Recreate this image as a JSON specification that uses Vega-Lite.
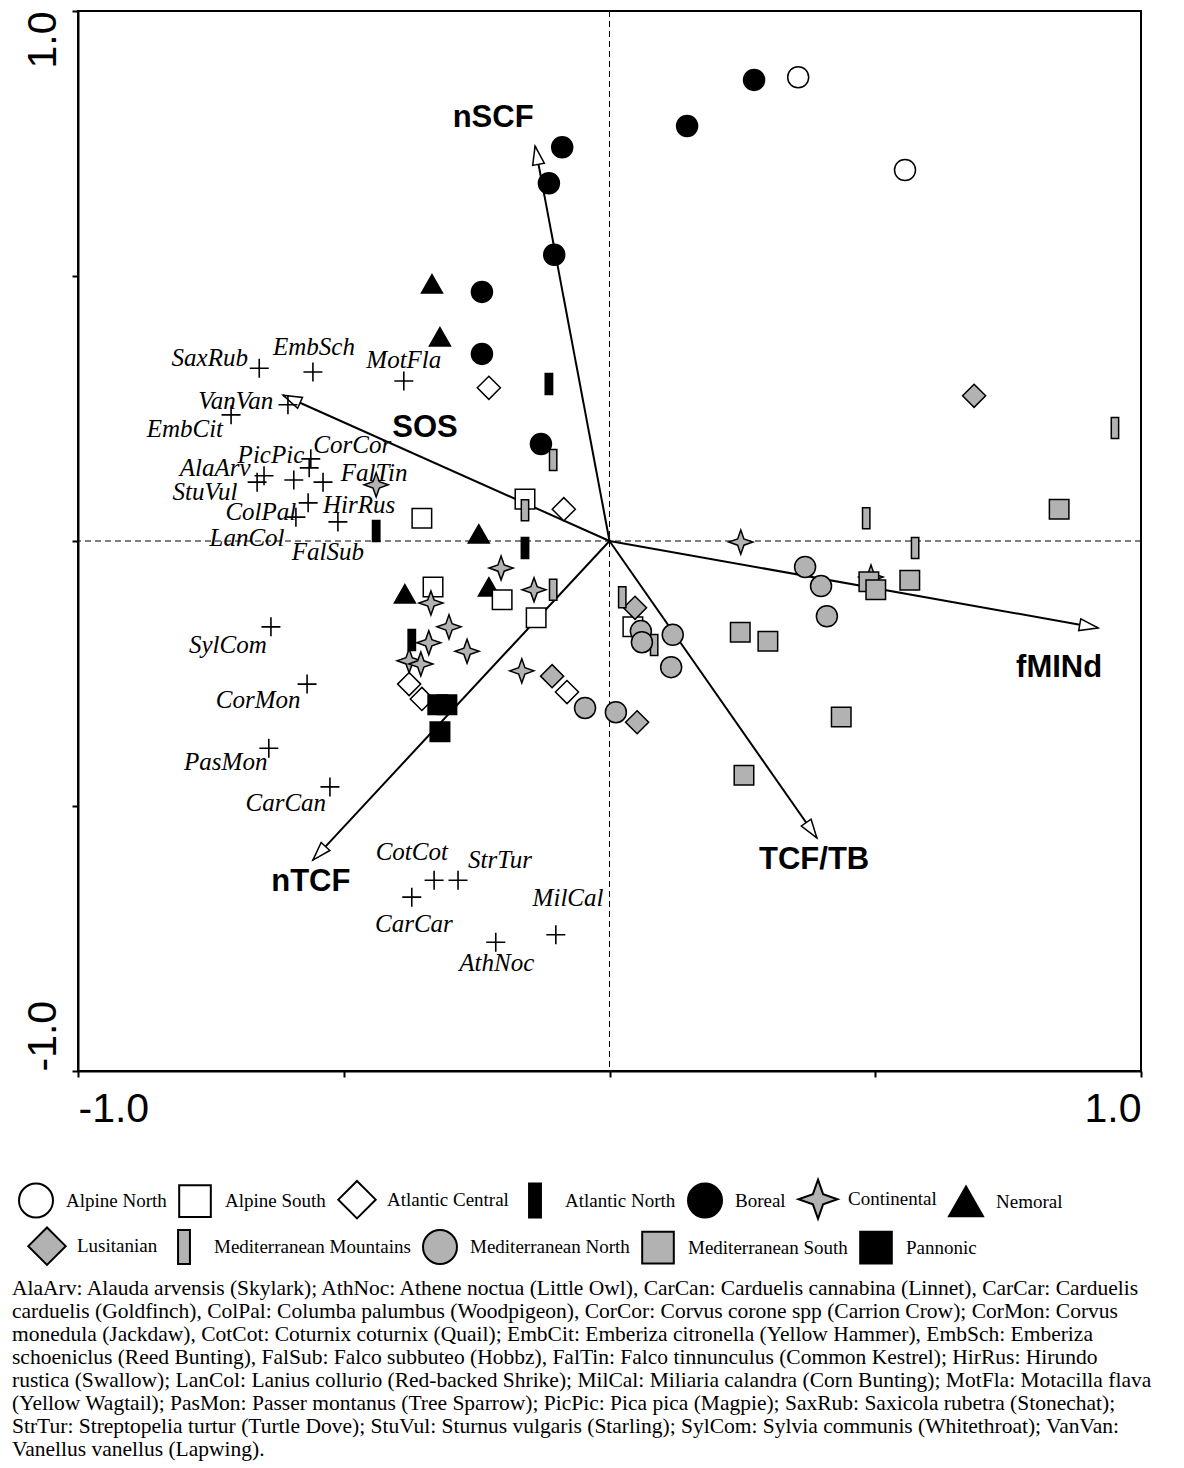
{
  "$schema": "https://vega.github.io/schema/vega-lite/v6.json",
  "width": 1063,
  "height": 1060,
  "padding": {"left": 12, "top": 10, "right": 5, "bottom": 5},
  "background": "white",
  "config": {
    "view": {"stroke": "black", "strokeWidth": 2},
    "axis": {"grid": false, "domainColor": "black", "domainWidth": 2, "tickColor": "black", "tickWidth": 2, "tickSize": 6, "labelColor": "black", "labelFont": "Liberation Sans", "labelFontSize": 41},
    "legend": {
      "orient": "none", "direction": "horizontal", "title": null,
      "symbolSize": 1156, "symbolStrokeWidth": 2, "symbolOpacity": 1,
      "labelFont": "Liberation Serif", "labelFontSize": 19, "labelColor": "black", "labelLimit": 400,
      "labelOffset": 12, "columnPadding": 8, "rowPadding": 1
    }
  },
  "title": {
    "text": [
      "AlaArv: Alauda arvensis (Skylark); AthNoc: Athene noctua (Little Owl), CarCan: Carduelis cannabina (Linnet), CarCar: Carduelis",
      "carduelis (Goldfinch), ColPal: Columba palumbus (Woodpigeon), CorCor: Corvus corone spp (Carrion Crow); CorMon: Corvus",
      "monedula (Jackdaw), CotCot: Coturnix coturnix (Quail); EmbCit: Emberiza citronella (Yellow Hammer), EmbSch: Emberiza",
      "schoeniclus (Reed Bunting), FalSub: Falco subbuteo (Hobbz), FalTin: Falco tinnunculus (Common Kestrel); HirRus: Hirundo",
      "rustica (Swallow); LanCol: Lanius collurio (Red-backed Shrike); MilCal: Miliaria calandra (Corn Bunting); MotFla: Motacilla flava",
      "(Yellow Wagtail); PasMon: Passer montanus (Tree Sparrow); PicPic: Pica pica (Magpie); SaxRub: Saxicola rubetra (Stonechat);",
      "StrTur: Streptopelia turtur (Turtle Dove); StuVul: Sturnus vulgaris (Starling); SylCom: Sylvia communis (Whitethroat); VanVan:",
      "Vanellus vanellus (Lapwing)."
    ],
    "orient": "bottom",
    "anchor": "start",
    "frame": "bounds",
    "offset": 9,
    "dx": -6,
    "font": "Liberation Serif",
    "fontSize": 21.5,
    "fontWeight": "normal",
    "lineHeight": 23,
    "color": "black"
  },
  "datasets": {
    "sites": [
      {"region": "Alpine North", "x": 0.355, "y": 0.875},
      {"region": "Alpine North", "x": 0.556, "y": 0.700},
      {"region": "Boreal", "x": 0.272, "y": 0.870},
      {"region": "Boreal", "x": 0.146, "y": 0.783},
      {"region": "Boreal", "x": -0.089, "y": 0.743},
      {"region": "Boreal", "x": -0.114, "y": 0.675},
      {"region": "Boreal", "x": -0.104, "y": 0.540},
      {"region": "Boreal", "x": -0.240, "y": 0.470},
      {"region": "Boreal", "x": -0.240, "y": 0.353},
      {"region": "Boreal", "x": -0.129, "y": 0.183},
      {"region": "Nemoral", "x": -0.334, "y": 0.485},
      {"region": "Nemoral", "x": -0.319, "y": 0.385},
      {"region": "Nemoral", "x": -0.246, "y": 0.013},
      {"region": "Nemoral", "x": -0.385, "y": -0.100},
      {"region": "Nemoral", "x": -0.227, "y": -0.087},
      {"region": "Atlantic Central", "x": -0.227, "y": 0.289},
      {"region": "Atlantic Central", "x": -0.086, "y": 0.060},
      {"region": "Atlantic Central", "x": -0.377, "y": -0.270},
      {"region": "Atlantic Central", "x": -0.353, "y": -0.298},
      {"region": "Atlantic Central", "x": -0.080, "y": -0.285},
      {"region": "Atlantic North", "x": -0.114, "y": 0.296},
      {"region": "Atlantic North", "x": -0.439, "y": 0.019},
      {"region": "Atlantic North", "x": -0.159, "y": -0.013},
      {"region": "Atlantic North", "x": -0.372, "y": -0.187},
      {"region": "Alpine South", "x": -0.159, "y": 0.079},
      {"region": "Alpine South", "x": -0.353, "y": 0.043},
      {"region": "Alpine South", "x": -0.332, "y": -0.087},
      {"region": "Alpine South", "x": -0.202, "y": -0.111},
      {"region": "Alpine South", "x": -0.138, "y": -0.145},
      {"region": "Alpine South", "x": 0.044, "y": -0.162},
      {"region": "Continental", "x": -0.439, "y": 0.106},
      {"region": "Continental", "x": 0.247, "y": -0.002},
      {"region": "Continental", "x": -0.204, "y": -0.051},
      {"region": "Continental", "x": -0.142, "y": -0.092},
      {"region": "Continental", "x": -0.336, "y": -0.117},
      {"region": "Continental", "x": -0.302, "y": -0.162},
      {"region": "Continental", "x": -0.340, "y": -0.192},
      {"region": "Continental", "x": -0.268, "y": -0.208},
      {"region": "Continental", "x": -0.377, "y": -0.226},
      {"region": "Continental", "x": -0.355, "y": -0.232},
      {"region": "Continental", "x": -0.165, "y": -0.245},
      {"region": "Continental", "x": 0.492, "y": -0.068},
      {"region": "Lusitanian", "x": 0.686, "y": 0.274},
      {"region": "Lusitanian", "x": -0.108, "y": -0.255},
      {"region": "Lusitanian", "x": 0.052, "y": -0.342},
      {"region": "Lusitanian", "x": 0.048, "y": -0.126},
      {"region": "Mediterranean Mountains", "x": 0.951, "y": 0.213},
      {"region": "Mediterranean Mountains", "x": -0.106, "y": 0.153},
      {"region": "Mediterranean Mountains", "x": -0.159, "y": 0.058},
      {"region": "Mediterranean Mountains", "x": 0.483, "y": 0.043},
      {"region": "Mediterranean Mountains", "x": 0.575, "y": -0.013},
      {"region": "Mediterranean Mountains", "x": -0.106, "y": -0.092},
      {"region": "Mediterranean Mountains", "x": 0.024, "y": -0.106},
      {"region": "Mediterranean Mountains", "x": 0.084, "y": -0.196},
      {"region": "Mediterranean North", "x": 0.368, "y": -0.049},
      {"region": "Mediterranean North", "x": 0.398, "y": -0.085},
      {"region": "Mediterranean North", "x": 0.409, "y": -0.142},
      {"region": "Mediterranean North", "x": 0.059, "y": -0.170},
      {"region": "Mediterranean North", "x": 0.061, "y": -0.191},
      {"region": "Mediterranean North", "x": 0.119, "y": -0.177},
      {"region": "Mediterranean North", "x": 0.116, "y": -0.238},
      {"region": "Mediterranean North", "x": -0.046, "y": -0.315},
      {"region": "Mediterranean North", "x": 0.012, "y": -0.323},
      {"region": "Mediterranean South", "x": 0.846, "y": 0.060},
      {"region": "Mediterranean South", "x": 0.565, "y": -0.074},
      {"region": "Mediterranean South", "x": 0.488, "y": -0.077},
      {"region": "Mediterranean South", "x": 0.501, "y": -0.092},
      {"region": "Mediterranean South", "x": 0.246, "y": -0.172},
      {"region": "Mediterranean South", "x": 0.298, "y": -0.189},
      {"region": "Mediterranean South", "x": 0.436, "y": -0.332},
      {"region": "Mediterranean South", "x": 0.253, "y": -0.442},
      {"region": "Pannonic", "x": -0.323, "y": -0.309},
      {"region": "Pannonic", "x": -0.306, "y": -0.309},
      {"region": "Pannonic", "x": -0.319, "y": -0.360}
    ],
    "species": [
      {"code": "SaxRub", "x": -0.659, "y": 0.326, "lx": -0.752, "ly": 0.345},
      {"code": "EmbSch", "x": -0.558, "y": 0.319, "lx": -0.556, "ly": 0.366},
      {"code": "MotFla", "x": -0.387, "y": 0.302, "lx": -0.387, "ly": 0.342},
      {"code": "VanVan", "x": -0.605, "y": 0.257, "lx": -0.703, "ly": 0.264},
      {"code": "EmbCit", "x": -0.712, "y": 0.238, "lx": -0.799, "ly": 0.211},
      {"code": "PicPic", "x": -0.562, "y": 0.155, "lx": -0.637, "ly": 0.162},
      {"code": "CorCor", "x": -0.565, "y": 0.138, "lx": -0.484, "ly": 0.181},
      {"code": "AlaArv", "x": -0.650, "y": 0.123, "lx": -0.742, "ly": 0.138},
      {"code": "StuVul", "x": -0.663, "y": 0.111, "lx": -0.761, "ly": 0.092},
      {"code": "FalTin", "x": -0.539, "y": 0.111, "lx": -0.443, "ly": 0.128},
      {"code": "HirRus", "x": -0.594, "y": 0.115, "lx": -0.471, "ly": 0.068},
      {"code": "ColPal", "x": -0.567, "y": 0.072, "lx": -0.656, "ly": 0.055},
      {"code": "LanCol", "x": -0.590, "y": 0.045, "lx": -0.682, "ly": 0.006},
      {"code": "FalSub", "x": -0.511, "y": 0.036, "lx": -0.530, "ly": -0.021},
      {"code": "SylCom", "x": -0.637, "y": -0.162, "lx": -0.718, "ly": -0.196},
      {"code": "CorMon", "x": -0.569, "y": -0.270, "lx": -0.661, "ly": -0.300},
      {"code": "PasMon", "x": -0.641, "y": -0.391, "lx": -0.722, "ly": -0.417},
      {"code": "CarCan", "x": -0.526, "y": -0.464, "lx": -0.609, "ly": -0.494},
      {"code": "CotCot", "x": -0.330, "y": -0.640, "lx": -0.372, "ly": -0.587},
      {"code": "StrTur", "x": -0.285, "y": -0.640, "lx": -0.206, "ly": -0.602},
      {"code": "CarCar", "x": -0.372, "y": -0.672, "lx": -0.368, "ly": -0.723},
      {"code": "MilCal", "x": -0.101, "y": -0.743, "lx": -0.078, "ly": -0.674},
      {"code": "AthNoc", "x": -0.214, "y": -0.757, "lx": -0.212, "ly": -0.796}
    ],
    "arrows": [
      {"name": "nSCF", "x0": 0, "y0": 0, "x": -0.140, "y": 0.745, "lx": -0.219, "ly": 0.798},
      {"name": "SOS", "x0": 0, "y0": 0, "x": -0.614, "y": 0.275, "lx": -0.347, "ly": 0.213},
      {"name": "fMINd", "x0": 0, "y0": 0, "x": 0.919, "y": -0.164, "lx": 0.846, "ly": -0.240},
      {"name": "TCF/TB", "x0": 0, "y0": 0, "x": 0.390, "y": -0.560, "lx": 0.385, "ly": -0.602},
      {"name": "nTCF", "x0": 0, "y0": 0, "x": -0.558, "y": -0.602, "lx": -0.562, "ly": -0.643}
    ]
  },
  "resolve": {"scale": {"shape": "independent", "fill": "independent", "stroke": "independent"}},
  "layer": [
    {
      "data": {"values": [{}]},
      "mark": {"type": "rule", "strokeDash": [6, 4], "strokeWidth": 1, "color": "black"},
      "encoding": {
        "x": {
          "datum": 0, "type": "quantitative",
          "scale": {"domain": [-1, 1], "nice": false, "zero": false},
          "axis": {
            "title": null,
            "values": [-1, -0.5, 0, 0.5, 1],
            "labelExpr": "datum.value == 1 ? '1.0' : datum.value == -1 ? '-1.0' : ''",
            "labelFlush": true,
            "labelPadding": 12
          }
        }
      }
    },
    {
      "data": {"values": [{}]},
      "mark": {"type": "rule", "strokeDash": [6, 4], "strokeWidth": 1, "color": "black"},
      "encoding": {
        "y": {
          "datum": 0, "type": "quantitative",
          "scale": {"domain": [-1, 1], "nice": false, "zero": false},
          "axis": {
            "title": null,
            "values": [-1, -0.5, 0, 0.5, 1],
            "labelExpr": "datum.value == 1 ? '1.0' : datum.value == -1 ? '-1.0' : ''",
            "labelAngle": -90,
            "labelAlign": {"condition": {"test": "datum.value > 0", "value": "right"}, "value": "left"},
            "labelBaseline": "alphabetic",
            "labelPadding": 17
          }
        }
      }
    },
    {
      "data": {"name": "arrows"},
      "mark": {"type": "rule", "strokeWidth": 2, "color": "black"},
      "encoding": {
        "x": {"field": "x0", "type": "quantitative", "title": null},
        "y": {"field": "y0", "type": "quantitative", "title": null},
        "x2": {"field": "x"},
        "y2": {"field": "y"}
      }
    },
    {
      "data": {"name": "arrows"},
      "transform": [{"calculate": "atan2(datum.x, datum.y) * 180 / PI", "as": "angle"}],
      "mark": {"type": "point", "shape": "M0,0L0.32,1L-0.32,1Z", "size": 1369, "filled": true, "fill": "white", "stroke": "black", "strokeWidth": 1.5, "opacity": 1},
      "encoding": {
        "x": {"field": "x", "type": "quantitative", "title": null},
        "y": {"field": "y", "type": "quantitative", "title": null},
        "angle": {"field": "angle", "type": "quantitative", "scale": null}
      }
    },
    {
      "data": {"name": "arrows"},
      "mark": {"type": "text", "font": "Liberation Sans", "fontWeight": "bold", "fontSize": 31, "color": "black", "align": "center", "baseline": "middle"},
      "encoding": {
        "x": {"field": "lx", "type": "quantitative", "title": null},
        "y": {"field": "ly", "type": "quantitative", "title": null},
        "text": {"field": "name"}
      }
    },
    {
      "data": {"name": "sites"},
      "transform": [{"filter": {"field": "region", "oneOf": ["Alpine North", "Alpine South", "Atlantic Central", "Atlantic North", "Boreal", "Continental", "Nemoral"]}}],
      "mark": {"type": "point", "filled": true, "strokeWidth": 1.5, "size": 441, "opacity": 1},
      "encoding": {
        "x": {"field": "x", "type": "quantitative", "title": null},
        "y": {"field": "y", "type": "quantitative", "title": null},
        "shape": {
          "field": "region", "type": "nominal",
          "scale": {
            "domain": ["Alpine North", "Alpine South", "Atlantic Central", "Atlantic North", "Boreal", "Continental", "Nemoral"],
            "range": ["circle", "M-0.93,-0.93L0.93,-0.93L0.93,0.93L-0.93,0.93Z", "M0,-1.1L1.1,0L0,1.1L-1.1,0Z", "M-0.35,-1L0.35,-1L0.35,1L-0.35,1Z", "circle", "M0,-1.15L0.3,-0.3L1.15,0L0.3,0.3L0,1.15L-0.3,0.3L-1.15,0L-0.3,-0.3Z", "M0,-0.9L1,0.85L-1,0.85Z"]
          },
          "legend": {"legendX": -60, "legendY": 1170, "columns": 7}
        },
        "fill": {
          "field": "region", "type": "nominal",
          "scale": {
            "domain": ["Alpine North", "Alpine South", "Atlantic Central", "Atlantic North", "Boreal", "Continental", "Nemoral"],
            "range": ["white", "white", "white", "black", "black", "#b2b2b2", "black"]
          },
          "legend": {"legendX": -60, "legendY": 1170, "columns": 7}
        },
        "stroke": {
          "field": "region", "type": "nominal",
          "scale": {
            "domain": ["Alpine North", "Alpine South", "Atlantic Central", "Atlantic North", "Boreal", "Continental", "Nemoral"],
            "range": ["black", "black", "black", "black", "black", "black", "black"]
          },
          "legend": {"legendX": -60, "legendY": 1170, "columns": 7}
        }
      }
    },
    {
      "data": {"name": "sites"},
      "transform": [{"filter": {"field": "region", "oneOf": ["Lusitanian", "Mediterranean Mountains", "Mediterranean North", "Mediterranean South", "Pannonic"]}}],
      "mark": {"type": "point", "filled": true, "strokeWidth": 1.5, "size": 441, "opacity": 1},
      "encoding": {
        "x": {"field": "x", "type": "quantitative", "title": null},
        "y": {"field": "y", "type": "quantitative", "title": null},
        "shape": {
          "field": "region", "type": "nominal",
          "scale": {
            "domain": ["Lusitanian", "Mediterranean Mountains", "Mediterranean North", "Mediterranean South", "Pannonic"],
            "range": ["M0,-1.1L1.1,0L0,1.1L-1.1,0Z", "M-0.35,-1L0.35,-1L0.35,1L-0.35,1Z", "circle", "M-0.93,-0.93L0.93,-0.93L0.93,0.93L-0.93,0.93Z", "M-0.93,-0.93L0.93,-0.93L0.93,0.93L-0.93,0.93Z"]
          },
          "legend": {"legendX": -49, "legendY": 1217, "columns": 5}
        },
        "fill": {
          "field": "region", "type": "nominal",
          "scale": {
            "domain": ["Lusitanian", "Mediterranean Mountains", "Mediterranean North", "Mediterranean South", "Pannonic"],
            "range": ["#b2b2b2", "#b2b2b2", "#b2b2b2", "#b2b2b2", "black"]
          },
          "legend": {"legendX": -49, "legendY": 1217, "columns": 5}
        },
        "stroke": {
          "field": "region", "type": "nominal",
          "scale": {
            "domain": ["Lusitanian", "Mediterranean Mountains", "Mediterranean North", "Mediterranean South", "Pannonic"],
            "range": ["black", "black", "black", "black", "black"]
          },
          "legend": {"legendX": -49, "legendY": 1217, "columns": 5}
        }
      }
    },
    {
      "data": {"name": "species"},
      "mark": {"type": "point", "shape": "M-1,0L1,0M0,-1L0,1", "size": 361, "filled": false, "color": "black", "stroke": "black", "strokeWidth": 1.6, "opacity": 1},
      "encoding": {
        "x": {"field": "x", "type": "quantitative", "title": null},
        "y": {"field": "y", "type": "quantitative", "title": null}
      }
    },
    {
      "data": {"name": "species"},
      "mark": {"type": "text", "font": "Liberation Serif", "fontStyle": "italic", "fontSize": 25, "color": "black", "align": "center", "baseline": "middle"},
      "encoding": {
        "x": {"field": "lx", "type": "quantitative", "title": null},
        "y": {"field": "ly", "type": "quantitative", "title": null},
        "text": {"field": "code"}
      }
    }
  ]
}
